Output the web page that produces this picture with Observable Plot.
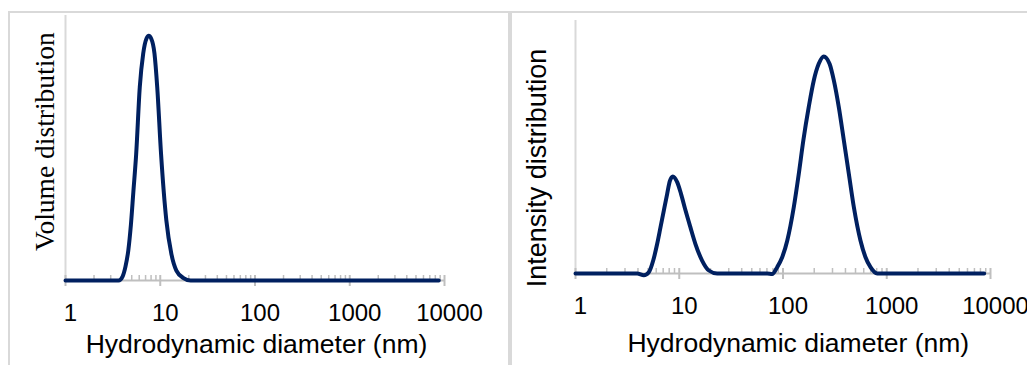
<!DOCTYPE html>
<html><head><meta charset="utf-8">
<script src="https://cdn.jsdelivr.net/npm/d3@7"></script>
<script src="https://cdn.jsdelivr.net/npm/@observablehq/plot@0.6"></script>
<style>
html,body{margin:0;padding:0;background:#fff;}
#wrap{position:relative;width:1027px;height:365px;overflow:hidden;background:#fff;}
.box{position:absolute;border:2px solid #d9d9d9;box-sizing:border-box;}
#boxL{left:8px;top:11px;width:502px;height:420px;}
#boxR{left:510px;top:11px;width:540px;height:420px;}
.panel{position:absolute;top:0;}
#left{left:0;}
#right{left:512px;}
</style></head><body>
<div id="wrap"><div class="box" id="boxL"></div><div class="box" id="boxR"></div><div class="panel" id="left"></div><div class="panel" id="right"></div></div>
<script>
// Tick values
const majorTicks = [1, 10, 100, 1000, 10000];
const minorTicks = [2,3,4,5,6,7,8,9,20,30,40,50,60,70,80,90,200,300,400,500,600,700,800,900,2000,3000,4000,5000,6000,7000,8000,9000];
const xLabel = "Hydrodynamic diameter (nm)";

// Volume distribution (left panel)
const volumeSize  = [1, 3.63, 4.0, 4.30, 4.6, 4.9, 5.2, 5.57, 6.08, 6.61, 7.16, 7.57, 8.02, 8.69, 9.29, 10.2, 11.6, 13.1, 14.8, 17.6, 20.9, 8700];
const volumeValue = [0, 0, 0.45, 1.6, 3.4, 6.3, 10.0, 14.3, 21.9, 25.7, 27.4, 27.7, 27.4, 25.7, 21.9, 14.3, 6.79, 3.02, 1.13, 0.28, 0, 0];

// Intensity distribution (right panel)
const intensitySize  = [1, 3.93, 4.56, 5.09, 5.61, 6.13, 6.60, 7.10, 7.65, 8.11, 8.67, 9.55, 10.4, 11.5, 12.8, 14.3, 16.6, 19.3, 23.2, 70.4, 78.7, 87.9, 98.2, 110, 127, 142, 157, 177, 198, 221, 247, 281, 309, 345, 386, 431, 482, 558, 624, 697, 809, 8690];
const intensityValue = [0, 0, -0.11, 0.08, 0.82, 1.88, 2.93, 3.98, 5.04, 5.84, 6.14, 5.78, 5.04, 3.98, 2.93, 1.88, 0.82, 0.19, 0, 0, -0.03, 0.40, 1.03, 2.09, 4.19, 6.31, 8.41, 10.52, 12.21, 13.26, 13.73, 13.26, 12.21, 10.52, 8.41, 6.31, 4.19, 2.09, 1.03, 0.40, 0, 0];

const SANS = "'Liberation Sans', Arial, sans-serif";
const SERIF = "'Liberation Serif', 'Times New Roman', serif";

function panel(o) {
  const data = o.sizes.map((s, i) => ({size: s, value: o.values[i]}));
  return Plot.plot({
    width: o.width, height: 365,
    marginLeft: o.ml, marginRight: o.mr, marginTop: o.mt, marginBottom: o.mb,
    style: {background: "transparent", fontFamily: SANS, color: "#000", overflow: "hidden"},
    x: {type: "log", domain: [1, 10000]},
    y: {domain: [0, o.yMax], axis: null},
    marks: [
      Plot.ruleX([1], {stroke: "#d9d9d9", strokeWidth: 2}),
      Plot.ruleY([0], {stroke: "#bfbfbf", strokeWidth: 2}),
      Plot.ruleX(minorTicks, {x: d => d, y1: 0, y2: 0, insetTop: 0, insetBottom: 5, stroke: "#bfbfbf", strokeWidth: 1.5}),
      Plot.ruleX(majorTicks, {x: d => d, y1: 0, y2: 0, insetTop: 6, insetBottom: 5, stroke: "#bfbfbf", strokeWidth: 2}),
      Plot.axisX({ticks: majorTicks, tickSize: 0, tickPadding: 23.5, tickFormat: d => String(d), fontSize: 24, fontFamily: SANS, fill: "#000", dx: 5, label: null}),
      Plot.line(data, {x: "size", y: "value", curve: "monotone-x", stroke: "#002060", strokeWidth: 4, strokeLinecap: "round", strokeLinejoin: "round"}),
      Plot.text([o.yLabel], {text: d => d, frameAnchor: "left", rotate: -90, dx: o.ydx, dy: o.ydy, fontSize: o.yFontSize, fontFamily: o.yFont, textAnchor: "middle", lineAnchor: "middle", fill: "#000"}),
      Plot.text([xLabel], {text: d => d, frameAnchor: "bottom", dx: o.xdx, dy: o.xdy, fontSize: 26.5, fontFamily: SANS, textAnchor: "middle", lineAnchor: "middle", fill: "#000"})
    ]
  });
}

document.getElementById("left").append(panel({
  sizes: volumeSize, values: volumeValue, width: 510, ml: 65, mr: 66, mt: 15, mb: 85, yMax: 30,
  yLabel: "Volume distribution", yFont: SERIF, yFontSize: 27.5, ydx: -20.6, ydy: -6.5, xdx: 1.5, xdy: 63.7
}));
document.getElementById("right").append(panel({
  sizes: intensitySize, values: intensityValue, width: 515, ml: 63, mr: 37, mt: 20, mb: 92, yMax: 16,
  yLabel: "Intensity distribution", yFont: SANS, yFontSize: 27, ydx: -38, ydy: 21, xdx: 15.3, xdy: 70.4
}));
</script>
</body></html>
